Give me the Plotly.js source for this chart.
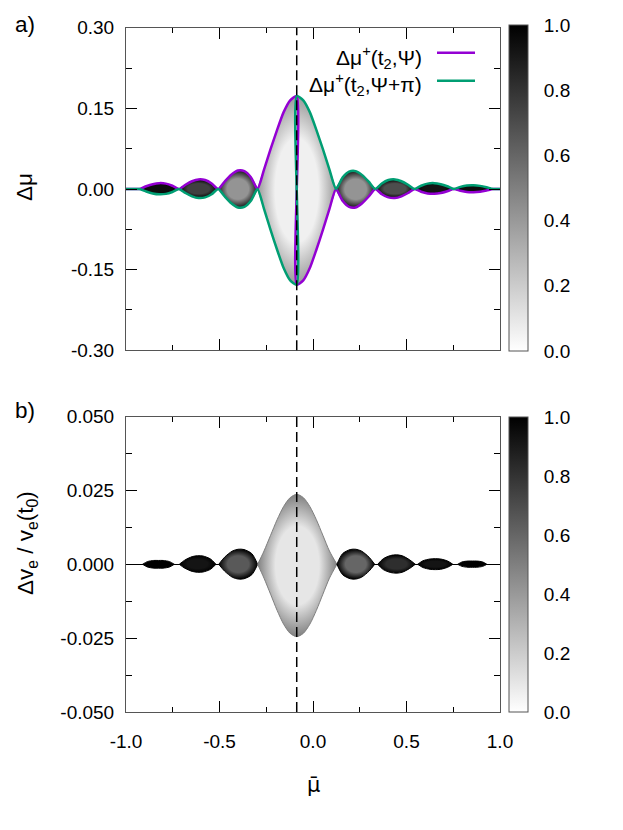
<!DOCTYPE html>
<html>
<head>
<meta charset="utf-8">
<script src="https://cdn.plot.ly/plotly-3.0.1.min.js"></script>
<style>
  html, body { margin: 0; padding: 0; background: #fff; }
  #chart { width: 623px; height: 830px; }
</style>
</head>
<body>
<div id="chart"></div>
<script>
// centre of the main lobe (dashed line)
const muCenter = -0.087;

// panel a) envelope of delta mu
const muBarA = [-1.0, -0.96, -0.927,
  -0.892, -0.857, -0.822, -0.787, -0.752, -0.717,
  -0.682, -0.647, -0.612, -0.577, -0.542, -0.507,
  -0.472, -0.437, -0.402, -0.367, -0.332, -0.297,
  -0.262, -0.227, -0.192, -0.157, -0.122, -0.087, -0.052, -0.017, 0.018, 0.053, 0.088, 0.123,
  0.158, 0.193, 0.228, 0.263, 0.298, 0.333,
  0.368, 0.403, 0.438, 0.473, 0.508, 0.543,
  0.578, 0.613, 0.648, 0.683, 0.718, 0.753,
  0.788, 0.823, 0.858, 0.893, 0.928, 0.963, 1.0];
const upperA = [0, 0, 0,
  0.0051, 0.0090, 0.0109, 0.0100, 0.0060, 0,
  0.0079, 0.0144, 0.0178, 0.0166, 0.0103, 0,
  0.0140, 0.0266, 0.0343, 0.0333, 0.0220, 0,
  0.036, 0.074, 0.110, 0.143, 0.165, 0.173, 0.165, 0.143, 0.110, 0.074, 0.036, 0,
  0.0214, 0.0323, 0.0333, 0.0258, 0.0136, 0,
  0.0103, 0.0166, 0.0178, 0.0144, 0.0079, 0,
  0.0060, 0.0100, 0.0109, 0.0090, 0.0051, 0,
  0.0039, 0.0064, 0.0069, 0.0058, 0.0033, 0, 0];
const lowerA = [0, 0, 0,
  -0.0046, -0.0082, -0.0099, -0.0091, -0.0055, 0,
  -0.0075, -0.0136, -0.0168, -0.0156, -0.0097, 0,
  -0.0140, -0.0266, -0.0343, -0.0333, -0.0220, 0,
  -0.037, -0.076, -0.113, -0.147, -0.170, -0.178, -0.170, -0.147, -0.113, -0.076, -0.037, 0,
  -0.0220, -0.0333, -0.0343, -0.0266, -0.0140, 0,
  -0.0097, -0.0156, -0.0168, -0.0136, -0.0075, 0,
  -0.0050, -0.0082, -0.0089, -0.0074, -0.0041, 0,
  -0.0033, -0.0055, -0.0059, -0.0050, -0.0028, 0, 0];
const lobeStartA = [-0.927, -0.717, -0.507, -0.297, 0.123, 0.333, 0.543, 0.753];
const lobeEndA   = [-0.717, -0.507, -0.297, 0.123, 0.333, 0.543, 0.753, 0.963];
const lobeCoreA  = [0.95, 0.75, 0.42, 0.06, 0.42, 0.70, 0.92, 0.95];
const lobeEdgeA  = [1.0, 1.0, 0.90, 0.40, 0.90, 1.0, 1.0, 1.0];

// panel b) envelope of delta v_e / v_e(t0)
const muBarB = [-1.0,
  -0.911, -0.886, -0.852, -0.827, -0.801, -0.767, -0.742,
  -0.715, -0.686, -0.646, -0.617, -0.588, -0.548, -0.519,
  -0.504, -0.473, -0.431, -0.400, -0.369, -0.327, -0.296,
  -0.262, -0.227, -0.192, -0.157, -0.122, -0.087, -0.052, -0.017, 0.018, 0.053, 0.088, 0.128,
  0.158, 0.199, 0.229, 0.259, 0.300, 0.330,
  0.346, 0.376, 0.416, 0.447, 0.477, 0.517, 0.547,
  0.560, 0.588, 0.626, 0.654, 0.682, 0.720, 0.748,
  0.774, 0.797, 0.829, 0.852, 0.875, 0.907, 0.930,
  1.0];
const upperB = [0,
  0, 0.0009, 0.0013, 0.0013, 0.0013, 0.0009, 0,
  0, 0.0014, 0.0026, 0.0029, 0.0028, 0.0018, 0,
  0, 0.0024, 0.0045, 0.0051, 0.0050, 0.0036, 0,
  0.0045, 0.0098, 0.0151, 0.0196, 0.0226, 0.0237, 0.0226, 0.0196, 0.0151, 0.0098, 0.0045, 0,
  0.0036, 0.0050, 0.0051, 0.0045, 0.0024, 0,
  0, 0.0019, 0.0030, 0.0032, 0.0029, 0.0015, 0,
  0, 0.0012, 0.0018, 0.0019, 0.0018, 0.0011, 0,
  0, 0.0008, 0.0011, 0.0011, 0.0011, 0.0008, 0,
  0];
const lowerB = [0,
  0, -0.0009, -0.0013, -0.0013, -0.0013, -0.0009, 0,
  0, -0.0013, -0.0024, -0.0027, -0.0026, -0.0017, 0,
  0, -0.0023, -0.0044, -0.0050, -0.0049, -0.0035, 0,
  -0.0047, -0.0101, -0.0156, -0.0203, -0.0234, -0.0245, -0.0234, -0.0203, -0.0156, -0.0101, -0.0047, 0,
  -0.0035, -0.0049, -0.0050, -0.0044, -0.0023, 0,
  0, -0.0018, -0.0028, -0.0030, -0.0027, -0.0014, 0,
  0, -0.0011, -0.0017, -0.0018, -0.0017, -0.0010, 0,
  0, -0.0007, -0.0010, -0.0010, -0.0010, -0.0007, 0,
  0];
const lobeStartB = [-0.911, -0.715, -0.504, -0.296, 0.128, 0.346, 0.560, 0.774];
const lobeEndB   = [-0.742, -0.519, -0.296, 0.128, 0.330, 0.547, 0.748, 0.930];
const lobeCoreB  = [1.0, 0.92, 0.65, 0.10, 0.60, 0.82, 0.92, 1.0];
const lobeEdgeB  = [1.0, 1.0, 1.0, 0.50, 1.0, 1.0, 1.0, 1.0];

// ticks and labels
const xTickVals = [-1, -0.5, 0, 0.5, 1];
const xTickText = ['-1.0', '-0.5', '0.0', '0.5', '1.0'];
const xMinorVals = [-0.75, -0.25, 0.25, 0.75];
const yTickValsA = [-0.3, -0.15, 0, 0.15, 0.3];
const yTickTextA = ['-0.30', '-0.15', '0.00', '0.15', '0.30'];
const yMinorValsA = [-0.225, -0.075, 0.075, 0.225];
const yTickValsB = [-0.05, -0.025, 0, 0.025, 0.05];
const yTickTextB = ['-0.050', '-0.025', '0.000', '0.025', '0.050'];
const yMinorValsB = [-0.0375, -0.0125, 0.0125, 0.0375];
const cbTickVals = [0, 0.2, 0.4, 0.6, 0.8, 1.0];
const cbTickText = ['0.0', '0.2', '0.4', '0.6', '0.8', '1.0'];

const PURPLE = '#9400d3';
const GREEN = '#009e73';
const FONT = 'Liberation Sans, Arial, sans-serif';

const gray = d => {
    const v = Math.round(255 * (1 - d));
    return `rgb(${v},${v},${v})`;
};

// one filled lobe = lower edge + upper edge filled to it
const lobe_traces = (xs, up, lo, starts, ends, cores, edges, xa, ya) => {
    let out = [];
    starts.forEach((s, k) => {
        const idx = xs.map((_, i) => i).filter(i => xs[i] >= s - 1e-9 && xs[i] <= ends[k] + 1e-9);
        const x = idx.map(i => xs[i]);
        const common = {type: 'scatter', mode: 'lines', x: x, xaxis: xa, yaxis: ya,
            hoverinfo: 'skip', showlegend: false};
        out.push(Object.assign({}, common, {
            y: idx.map(i => lo[i]),
            line: {color: gray(edges[k]), width: 1, shape: 'spline', smoothing: 0.8}
        }));
        out.push(Object.assign({}, common, {
            y: idx.map(i => up[i]),
            fill: 'tonexty',
            fillcolor: gray(cores[k]),
            fillgradient: {type: 'radial',
                colorscale: [[0, gray(cores[k])], [0.55, gray(cores[k])], [1, gray(edges[k])]]},
            line: {color: gray(edges[k]), width: 1, shape: 'spline', smoothing: 0.8}
        }));
    });
    return out;
};

// invisible markers carrying the lobe density -> colour bars
const scale_trace = (starts, ends, cores, xa, ya, cax) => ({
    type: 'scatter', mode: 'markers', xaxis: xa, yaxis: ya,
    x: starts.map((s, k) => (s + ends[k]) / 2),
    y: starts.map(() => 0),
    marker: {color: cores, coloraxis: cax, size: 1},
    opacity: 0, hoverinfo: 'skip', showlegend: false
});

const iC = muBarA.indexOf(muCenter);
const lineX = muBarA.slice(0, iC + 1).concat(muBarA.slice(iC));
const purpleY = upperA.slice(0, iC + 1).concat(lowerA.slice(iC));
const greenY = lowerA.slice(0, iC + 1).concat(upperA.slice(iC));

const data = [
    ...lobe_traces(muBarA, upperA, lowerA, lobeStartA, lobeEndA, lobeCoreA, lobeEdgeA, 'x', 'y'),
    ...lobe_traces(muBarB, upperB, lowerB, lobeStartB, lobeEndB, lobeCoreB, lobeEdgeB, 'x2', 'y2'),
    scale_trace(lobeStartA, lobeEndA, lobeCoreA, 'x', 'y', 'coloraxis'),
    scale_trace(lobeStartB, lobeEndB, lobeCoreB, 'x2', 'y2', 'coloraxis2'),
    {type: 'scatter', mode: 'lines', x: lineX, y: purpleY, xaxis: 'x', yaxis: 'y',
        line: {color: PURPLE, width: 2.5, shape: 'spline', smoothing: 0.6}, showlegend: false},
    {type: 'scatter', mode: 'lines', x: lineX, y: greenY, xaxis: 'x', yaxis: 'y',
        line: {color: GREEN, width: 2.5, shape: 'spline', smoothing: 0.6}, showlegend: false}
];

const W = 623, H = 830;
const px = v => v / W;
const py = v => (H - v) / H;

const xdom = [px(126), px(500)];
const base_x = {
    domain: xdom, range: [-1, 1], tickmode: 'array', tickvals: xTickVals, ticktext: xTickText,
    ticks: 'inside', ticklen: 11, tickcolor: 'black', tickwidth: 1,
    minor: {tickmode: 'array', tickvals: xMinorVals, ticks: 'inside', ticklen: 5, tickcolor: 'black', showgrid: false},
    showline: true, linecolor: '#555', linewidth: 1, mirror: 'ticks',
    showgrid: false, zeroline: false
};
const base_y = (vals, text, minor, dom) => ({
    domain: dom, range: [vals[0], vals[vals.length - 1]], tickmode: 'array', tickvals: vals, ticktext: text,
    ticks: 'inside', ticklen: 11, tickcolor: 'black', tickwidth: 1, ticklabelstandoff: 7,
    minor: {tickmode: 'array', tickvals: minor, ticks: 'inside', ticklen: 6, tickcolor: 'black', showgrid: false},
    showline: true, linecolor: '#555', linewidth: 1, mirror: 'ticks',
    showgrid: false, zeroline: false
});

const colorbar = (top, bottom) => ({
    x: px(509), xanchor: 'left', xpad: 0, thickness: 19,
    y: py((top + bottom) / 2), yanchor: 'middle', ypad: 0,
    len: bottom - top, lenmode: 'pixels',
    outlinewidth: 1, outlinecolor: '#555',
    tickmode: 'array', tickvals: cbTickVals, ticktext: cbTickText,
    ticks: 'outside', ticklen: 12, tickcolor: 'rgba(0,0,0,0)',
    tickfont: {family: FONT, size: 19, color: 'black'}
});
const grayscale = [[0, 'rgb(255,255,255)'], [1, 'rgb(0,0,0)']];

const dashed = (xa, ya) => ({
    type: 'line', xref: xa, yref: ya + ' domain', x0: muCenter, x1: muCenter, y0: 0, y1: 1,
    line: {color: 'black', width: 1.5, dash: '10px,5px'}
});
const legend_line = (y, color) => ({
    type: 'line', xref: 'paper', yref: 'paper', x0: px(437), x1: px(475), y0: py(y), y1: py(y),
    line: {color: color, width: 2.5}
});
const note = (text, x, y, extra) => Object.assign({
    text: text, xref: 'paper', yref: 'paper', x: px(x), y: py(y), showarrow: false,
    xanchor: 'center', yanchor: 'middle', font: {family: FONT, size: 20, color: 'black'}
}, extra || {});
const big = {family: FONT, size: 22.5, color: 'black'};

const layout = {
    width: W, height: H,
    margin: {l: 0, r: 0, t: 0, b: 0},
    paper_bgcolor: 'white', plot_bgcolor: 'white',
    font: {family: FONT, size: 19, color: 'black'},
    showlegend: false,
    xaxis: Object.assign({}, base_x, {anchor: 'y', showticklabels: false}),
    yaxis: Object.assign(base_y(yTickValsA, yTickTextA, yMinorValsA, [py(350.3), py(27.7)]), {anchor: 'x'}),
    xaxis2: Object.assign({}, base_x, {anchor: 'y2', ticklabelstandoff: 12}),
    yaxis2: Object.assign(base_y(yTickValsB, yTickTextB, yMinorValsB, [py(711.9), py(416.7)]),
        {anchor: 'x2', zeroline: true, zerolinecolor: 'black', zerolinewidth: 1.5}),
    coloraxis: {cmin: 0, cmax: 1, colorscale: grayscale, colorbar: colorbar(25, 351)},
    coloraxis2: {cmin: 0, cmax: 1, colorscale: grayscale, colorbar: colorbar(417, 712)},
    shapes: [
        dashed('x', 'y'), dashed('x2', 'y2'),
        legend_line(52.7, PURPLE), legend_line(80.7, GREEN)
    ],
    annotations: [
        note('a)', 25, 24, {font: big}),
        note('b)', 25, 411, {font: big}),
        note('Δμ', 25, 187, {textangle: -90, font: big}),
        note('Δv<sub>e</sub> / v<sub>e</sub>(t<sub>0</sub>)', 27, 543, {textangle: -90, font: big}),
        note('Δμ<sup>+</sup>(t<sub>2</sub>,Ψ)', 424, 57, {xanchor: 'right', font: {family: FONT, size: 21, color: 'black'}}),
        note('Δμ<sup>+</sup>(t<sub>2</sub>,Ψ+π)', 424, 84, {xanchor: 'right', font: {family: FONT, size: 21, color: 'black'}}),
        note('μ\u0304', 313, 785, {font: {family: 'DejaVu Sans, sans-serif', size: 21, color: 'black'}})
    ]
};

Plotly.newPlot('chart', data, layout, {staticPlot: true});
</script>
</body>
</html>
